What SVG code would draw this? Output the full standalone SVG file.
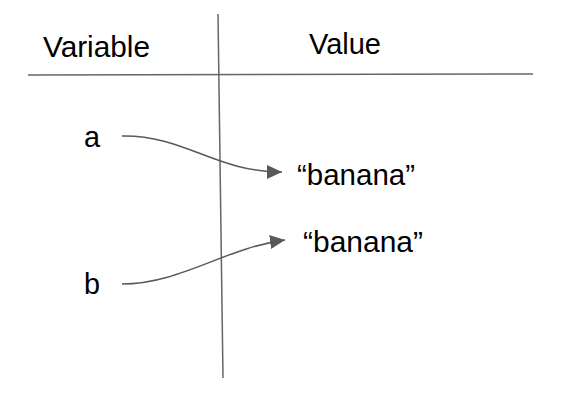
<svg xmlns="http://www.w3.org/2000/svg" width="565" height="400" viewBox="0 0 565 400">
<style>
text{font-family:"Liberation Sans",Arial,sans-serif;font-size:29px;fill:#000}
.rule{stroke:#666;stroke-width:1.5;fill:none}
.conn{stroke:#595959;stroke-width:1.5;fill:none}
</style>
<defs>
<marker id="arr" markerUnits="userSpaceOnUse" markerWidth="16" markerHeight="16" viewBox="0 0 16 16" refX="15" refY="8" orient="auto">
<path d="M0,1 L15,8 L0,15 Z" fill="#595959"/>
</marker>
</defs>
<rect width="565" height="400" fill="#fff"/>
<g id="table">
<line class="rule" x1="218" y1="14" x2="223" y2="378"/>
<line class="rule" x1="28" y1="75" x2="533" y2="74"/>
<text x="43" y="57" textLength="107" lengthAdjust="spacingAndGlyphs">Variable</text>
<text x="309" y="54" textLength="72" lengthAdjust="spacingAndGlyphs">Value</text>
</g>
<g id="var-a"><text x="84" y="147" textLength="16" lengthAdjust="spacingAndGlyphs">a</text></g>
<g id="var-b"><text x="84" y="294" textLength="16" lengthAdjust="spacingAndGlyphs">b</text></g>
<g id="val-1"><text x="297" y="185" textLength="118" lengthAdjust="spacingAndGlyphs">“banana”</text></g>
<g id="val-2"><text x="303" y="252" textLength="120" lengthAdjust="spacingAndGlyphs">“banana”</text></g>
<g id="connectors">
<path class="conn" d="M122,136 C185,135 215,172 282,172" marker-end="url(#arr)"/>
<path class="conn" d="M122,284 C180,284 225,248 285,240" marker-end="url(#arr)"/>
</g>
</svg>
